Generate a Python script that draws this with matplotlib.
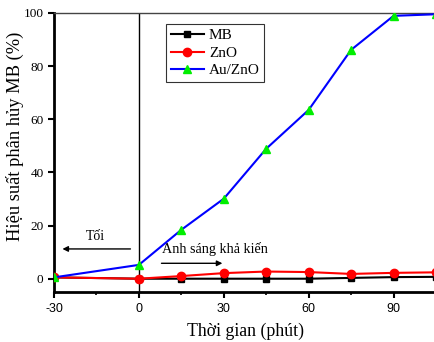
import matplotlib
matplotlib.use('Agg')
import matplotlib.pyplot as plt
from matplotlib.ticker import MultipleLocator

plt.rcParams['axes.unicode_minus'] = False

# thoi gian (phut) va hieu suat phan huy (%)
thoi_gian = [-30, 0, 15, 30, 45, 60, 75, 90, 105]
mb = [0.5, 0.0, 0.0, 0.0, 0.0, 0.0, 0.3, 0.6, 0.7]
zno = [0.5, 0.0, 1.0, 2.1, 2.7, 2.5, 1.8, 2.2, 2.4]
au_zno = [0.5, 5.2, 18.4, 30.1, 48.9, 63.5, 86.1, 98.9, 99.5]

serif = 'Liberation Serif'
sans = 'Liberation Sans'

W, H = 434, 342
fig = plt.figure(figsize=(W / 100, H / 100), dpi=100)
ax = fig.add_axes([0.1244, 0.1462, 0.8756, 0.816])

ax.plot(thoi_gian, mb, color='black', lw=1.5, marker='s', ms=5,
        mfc='black', mec='black', label='MB', zorder=3)
ax.plot(thoi_gian, zno, color='red', lw=1.5, marker='o', ms=6,
        mfc='red', mec='red', label='ZnO', zorder=4)
ax.plot(thoi_gian, au_zno, color='blue', lw=1.5, marker='^', ms=6,
        mfc='#00ee00', mec='#00ee00', label='Au/ZnO', zorder=5)

ax.axvline(0, color='black', lw=1.0, zorder=2)

ax.set_xlim(-30, 104.3)
ax.set_ylim(-5, 100)
ax.xaxis.set_major_locator(MultipleLocator(30))
ax.xaxis.set_minor_locator(MultipleLocator(15))
ax.yaxis.set_major_locator(MultipleLocator(20))
ax.tick_params(axis='both', which='major', direction='out', length=4, width=1.5)
ax.tick_params(axis='x', which='major', pad=4)
ax.tick_params(axis='x', which='minor', direction='out', length=2, width=1.2)
for lab in ax.get_xticklabels():
    lab.set_fontfamily(sans)
    lab.set_fontsize(9)
for lab in ax.get_yticklabels():
    lab.set_fontfamily(serif)
    lab.set_fontsize(9.5)

ax.spines['right'].set_visible(False)
ax.spines['left'].set_linewidth(2)
ax.spines['bottom'].set_linewidth(2)
ax.spines['top'].set_linewidth(1)
ax.spines['top'].set_color('#444444')

# nhan truc
fig.text(245 / W, 1 - 331 / H, 'Thời gian (phút)', family=serif, fontsize=12.8,
         ha='center', va='center')
fig.text(15 / W, 1 - 136 / H, 'Hiệu suất phân hủy MB (%)', family=serif, fontsize=13.3,
         ha='center', va='center', rotation=90)

# mui ten toi / anh sang
ax.annotate('', xy=(-28, 11.2), xytext=(-2, 11.2),
            arrowprops=dict(arrowstyle='-|>', color='black', lw=1, mutation_scale=8))
ax.text(-15.5, 13.5, 'Tối', family=serif, fontsize=10, ha='center', va='bottom')
ax.annotate('', xy=(30.5, 5.8), xytext=(7, 5.8),
            arrowprops=dict(arrowstyle='-|>', color='black', lw=1, mutation_scale=8))
ax.text(8, 8.5, 'Ánh sáng khả kiến', family=serif, fontsize=10.2, ha='left', va='bottom')

leg = ax.legend(loc='upper left', bbox_to_anchor=(0.295, 0.96), prop={'family': serif, 'size': 11},
                frameon=True, fancybox=False, edgecolor='black', handlelength=2.2,
                borderpad=0.3, labelspacing=0.25, handletextpad=0.3, borderaxespad=0)
leg.get_frame().set_linewidth(0.8)

fig.savefig('out.png', dpi=100)
